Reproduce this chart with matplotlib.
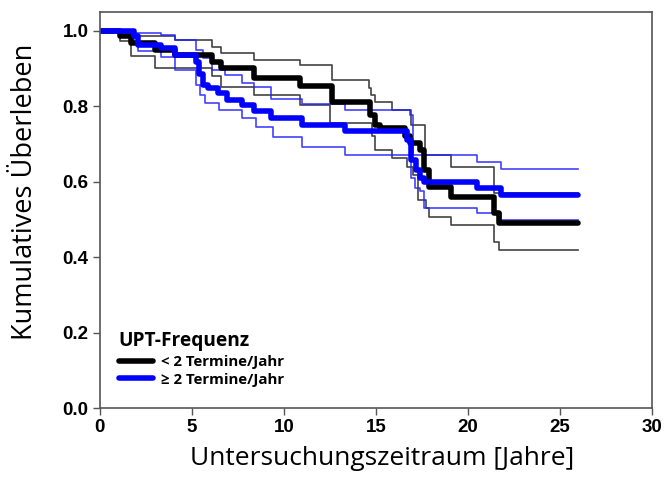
import matplotlib
matplotlib.use("Agg")
import matplotlib.pyplot as plt

# Kaplan-Meier step data (years, cumulative survival)
t_low = [0, 1.1, 1.7, 3.0, 4.1, 6.1, 6.6, 8.4, 10.9, 12.6, 14.7, 14.95, 15.2,
         16.6, 16.85, 17.4, 17.6, 17.9, 19.1, 21.4, 21.7, 26.0]
s_low = [1.0, 0.987, 0.967, 0.95, 0.936, 0.918, 0.9, 0.876, 0.853, 0.812, 0.777,
         0.751, 0.743, 0.72, 0.703, 0.684, 0.63, 0.587, 0.56, 0.517, 0.49, 0.49]

t_low_hi = [0, 1.1, 1.7, 4.1, 6.1, 6.6, 8.4, 10.9, 12.6, 14.6, 14.75, 14.95,
            15.85, 16.9, 17.65, 19.1, 21.4, 26.0]
s_low_hi = [1.0, 0.995, 0.985, 0.976, 0.958, 0.941, 0.923, 0.91, 0.87, 0.848,
            0.83, 0.812, 0.79, 0.751, 0.671, 0.64, 0.57, 0.57]

t_low_lo = [0, 1.1, 1.7, 3.0, 6.1, 6.6, 8.4, 10.9, 12.5, 14.8, 14.95, 15.85,
            16.7, 17.0, 17.3, 17.75, 17.9, 19.1, 21.4, 21.7, 26.0]
s_low_lo = [1.0, 0.972, 0.932, 0.901, 0.88, 0.852, 0.83, 0.804, 0.755, 0.72,
            0.684, 0.662, 0.64, 0.618, 0.552, 0.53, 0.507, 0.485, 0.441, 0.419, 0.419]

t_high = [0, 1.85, 2.1, 3.3, 4.1, 5.25, 5.4, 5.6, 5.9, 6.4, 6.9, 7.7, 8.4, 9.3,
          11.0, 13.3, 16.7, 16.9, 17.2, 17.4, 17.6, 20.5, 21.8, 26.0]
s_high = [1.0, 0.985, 0.963, 0.954, 0.936, 0.918, 0.885, 0.857, 0.849, 0.835,
          0.817, 0.804, 0.786, 0.768, 0.751, 0.733, 0.711, 0.658, 0.631, 0.609,
          0.6, 0.583, 0.565, 0.565]

t_high_hi = [0, 1.85, 3.3, 4.1, 5.25, 5.6, 6.1, 6.8, 7.7, 8.4, 9.3, 11.0, 13.3,
             16.85, 17.0, 20.5, 21.8, 26.0]
s_high_hi = [1.0, 0.995, 0.989, 0.976, 0.95, 0.928, 0.897, 0.883, 0.861, 0.852,
             0.82, 0.805, 0.79, 0.777, 0.671, 0.653, 0.633, 0.633]

t_high_lo = [0, 1.85, 2.1, 3.3, 4.1, 5.25, 5.45, 5.7, 6.5, 7.75, 8.5, 9.4, 11.0,
             13.3, 16.9, 17.1, 17.4, 17.6, 20.5, 21.8, 26.0]
s_high_lo = [1.0, 0.965, 0.945, 0.93, 0.897, 0.857, 0.83, 0.808, 0.79, 0.768,
             0.746, 0.718, 0.691, 0.671, 0.61, 0.584, 0.575, 0.531, 0.518, 0.499, 0.499]

labels = ["< 2 Termine/Jahr", "\u2265 2 Termine/Jahr"]
legend_title = "UPT-Frequenz"

fig = plt.figure(figsize=(6.7, 4.94), dpi=100)
ax = fig.add_axes([0.149, 0.174, 0.824, 0.802])

# confidence bands (thin)
ax.step(t_low_hi, s_low_hi, where="post", color="#222222", lw=1.2, alpha=0.85)
ax.step(t_low_lo, s_low_lo, where="post", color="#222222", lw=1.2, alpha=0.85)
ax.step(t_high_hi, s_high_hi, where="post", color="#2020ff", lw=1.2, alpha=0.85)
ax.step(t_high_lo, s_high_lo, where="post", color="#2020ff", lw=1.2, alpha=0.85)

# survival curves (thick)
l1, = ax.step(t_low, s_low, where="post", color="black", lw=4, solid_capstyle="round")
l2, = ax.step(t_high, s_high, where="post", color="#0000ff", lw=4, solid_capstyle="round")

ax.set_xlim(0, 30)
ax.set_ylim(0, 1.05)
ax.set_xticks([0, 5, 10, 15, 20, 25, 30])
ax.set_yticks([0.0, 0.2, 0.4, 0.6, 0.8, 1.0])
ax.set_yticklabels(["0.0", "0.2", "0.4", "0.6", "0.8", "1.0"])

for sp in ax.spines.values():
    sp.set_color("#555555")
    sp.set_linewidth(1.2)
ax.tick_params(direction="out", length=5, width=1, color="#555555", pad=3)
for lab in ax.get_xticklabels() + ax.get_yticklabels():
    lab.set_fontfamily("Liberation Sans")
    lab.set_fontweight("bold")
    lab.set_fontsize(13.5)

ax.set_xlabel("Untersuchungszeitraum [Jahre]", fontsize=19, family="Open Sans")
ax.set_ylabel("Kumulatives \u00dcberleben", fontsize=19.5, family="Open Sans")
ax.xaxis.set_label_coords(0.511, -0.095)
ax.yaxis.set_label_coords(-0.11, 0.545)

leg = ax.legend([l1, l2], labels, title=legend_title, loc="lower left",
                bbox_to_anchor=(0.01, 0.02), frameon=False, handlelength=2.3,
                handletextpad=0.5, labelspacing=0.25,
                prop={"family": "Open Sans", "weight": "bold", "size": 10.8})
leg.get_title().set_fontfamily("Open Sans")
leg.get_title().set_fontweight("bold")
leg.get_title().set_fontsize(13.8)
leg._legend_box.align = "left"

fig.savefig("out.png", dpi=100)
